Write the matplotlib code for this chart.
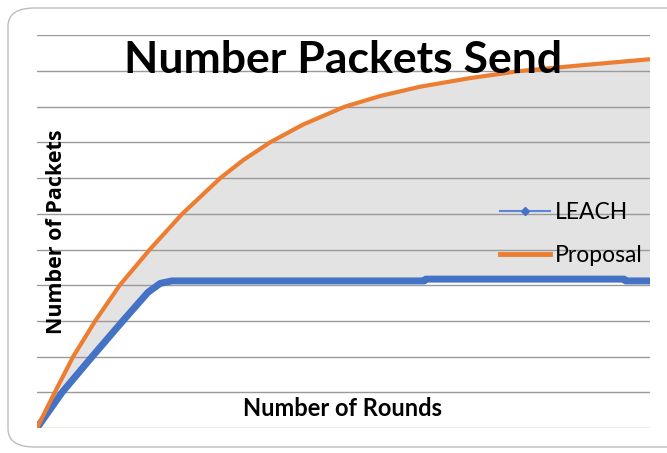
import matplotlib
matplotlib.use("Agg")
import matplotlib.pyplot as plt
from matplotlib.patches import FancyBboxPatch
from matplotlib.lines import Line2D
import numpy as np

# Rounds (relative scale, 0-100) and packets sent (in grid units)
proposal_rounds = [0, 2.9, 5.9, 9.5, 13.5, 18.4, 23.7, 29.9, 33.6, 38.0,
                   43.4, 50.2, 56.0, 62.5, 70.6, 78.8, 89.4, 100]
proposal_packets = [0, 1, 2, 3, 4, 5, 6, 7, 7.5, 8,
                    8.5, 9, 9.3, 9.56, 9.8, 10, 10.17, 10.33]

leach_rounds = [0, 4.1, 9.0, 14.0, 18.1, 20.1, 22.0, 40, 63.2,
                63.4, 95.8, 96, 100]
leach_packets = [0, 1, 2, 3, 3.8, 4.05, 4.12, 4.12, 4.12,
                 4.17, 4.17, 4.12, 4.12]

series_names = ["LEACH", "Proposal"]
title = "Number Packets Send"
x_label = "Number of Rounds"
y_label = "Number of Packets"

BLUE = "#4472c4"
ORANGE = "#ed7d31"

W, H = 667, 453
fig = plt.figure(figsize=(W / 100, H / 100), dpi=100)

# rounded outer frame, running off the right edge
frame = FancyBboxPatch((8 / W, 6 / H), 700 / W, 439 / H,
                       boxstyle="round,pad=0,rounding_size=0.04",
                       transform=fig.transFigure, facecolor="none",
                       edgecolor="#bdbdbd", linewidth=1.0, zorder=-1)
fig.patches.append(frame)

ax = fig.add_axes([37 / W, 25 / H, 613 / W, 392.7 / H])
ax.set_facecolor("none")
ax.set_xlim(0, 100)
ax.set_ylim(0, 11)
for s in ax.spines.values():
    s.set_visible(False)
ax.set_xticks([])
ax.set_yticks([])

for g in range(0, 12):
    ax.axhline(g, color="#9a9a9a", linewidth=1.0, zorder=1)

# shaded gap between the two curves
poly_x = np.concatenate([proposal_rounds, leach_rounds[::-1]])
poly_y = np.concatenate([proposal_packets, leach_packets[::-1]])
ax.fill(poly_x, poly_y, color="#e3e3e3", zorder=0.5, linewidth=0)

ax.plot(leach_rounds, leach_packets, color=BLUE, linewidth=5,
        solid_capstyle="round", solid_joinstyle="round", zorder=3)
ax.plot(proposal_rounds, proposal_packets, color=ORANGE, linewidth=3,
        solid_capstyle="round", solid_joinstyle="round", zorder=4)

handles = [
    Line2D([], [], color="#5b86d6", linewidth=1.5, marker="D", markersize=4,
           markerfacecolor=BLUE, markeredgecolor=BLUE),
    Line2D([], [], color=ORANGE, linewidth=3.5),
]
fig.legend(handles, series_names, loc="center left",
           bbox_to_anchor=(500 / W, 1 - 234 / H),
           bbox_transform=fig.transFigure, frameon=False,
           prop={"family": "Lato", "size": 16.5}, handlelength=2.2,
           handletextpad=0.2, labelspacing=1.0, borderaxespad=0,
           borderpad=0)

fig.text(343 / W, 1 - 60 / H, title, ha="center", va="center",
         fontsize=32, fontweight="bold", family="Lato", zorder=5)
fig.text(343 / W, 1 - 409 / H, x_label, ha="center", va="center",
         fontsize=17, fontweight="bold", family="Lato")
fig.text(57 / W, 1 - 232 / H, y_label, ha="center", va="center",
         rotation=90, fontsize=15.5, fontweight="bold", family="Open Sans")

fig.savefig("out.png", dpi=100)
